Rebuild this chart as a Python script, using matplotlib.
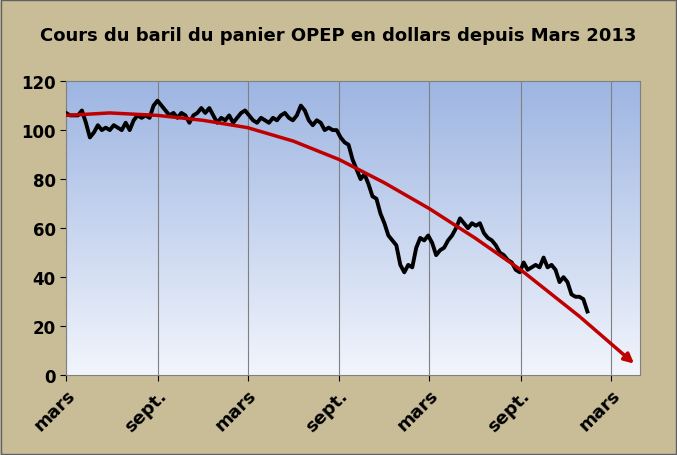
import matplotlib
matplotlib.use("Agg")
import matplotlib.pyplot as plt
import matplotlib.dates as mdates
import numpy as np
import pandas as pd

prix = [107,106,106,106,108,103,97,99,102,100,101,100,102,101,100,103,100,104,106,105,106,105,110,112,110,108,106,107,105,107,106,103,106,107,109,107,109,106,103,105,104,106,103,105,107,108,106,104,103,105,104,103,105,104,106,107,105,104,106,110,108,104,102,104,103,100,101,100,100,97,95,94,88,84,80,82,78,73,72,66,62,57,55,53,45,42,45,44,52,56,55,57,54,49,51,52,55,57,60,64,62,60,62,61,62,58,56,55,53,50,49,47,46,43,42,46,43,44,45,44,48,44,45,43,38,40,38,33,32,32,31,26]
dates = pd.date_range("2013-03-01", periods=len(prix), freq="8D")

tend_dates = pd.to_datetime(["2013-03-01","2013-05-28","2013-09-01","2013-12-01","2014-03-01","2014-06-01",
                             "2014-09-01","2014-12-01","2015-03-01","2015-06-01","2015-09-01","2015-12-28","2016-04-20"])
tend_vals = [106,107,106,104,101,95.5,88,78.5,68,56,43,24,4]

tick_dates = pd.to_datetime(["2013-03-01","2013-09-01","2014-03-01","2014-09-01","2015-03-01","2015-09-01","2016-03-01"])
tick_labels = ["mars","sept.","mars","sept.","mars","sept.","mars"]

fig = plt.figure(figsize=(6.77,4.56), dpi=100, facecolor="#C9BD98")
ax = fig.add_axes([0.0975,0.175,0.848,0.645])
x0 = mdates.date2num(pd.Timestamp("2013-03-01"))
x1 = mdates.date2num(pd.Timestamp("2016-04-28"))
grad = np.linspace(0,1,256).reshape(-1,1)
from matplotlib.colors import LinearSegmentedColormap
cm = LinearSegmentedColormap.from_list("g", ["#F2F5FC", "#9DB5E2"])
ax.imshow(grad, extent=[x0,x1,0,120], aspect="auto", cmap=cm, origin="lower", zorder=0)
ax.set_xlim(x0,x1); ax.set_ylim(0,120)
for t in tick_dates:
    ax.axvline(mdates.date2num(t), color="#808080", lw=0.8, zorder=1)
ax.plot(mdates.date2num(dates), prix, color="black", lw=2.8, zorder=3)
tx = mdates.date2num(tend_dates)
ax.plot(tx[:-1], tend_vals[:-1], color="#C00000", lw=2.5, zorder=4)
ax.annotate("", xy=(tx[-1], tend_vals[-1]), xytext=(tx[-2], tend_vals[-2]),
            arrowprops=dict(arrowstyle="-|>", color="#C00000", lw=2.5, mutation_scale=14), zorder=4)
ax.set_xticks(mdates.date2num(tick_dates))
ax.set_xticklabels(tick_labels, rotation=45, ha="right", rotation_mode="anchor", fontsize=13, fontweight="bold")
ax.set_yticks(range(0,121,20))
ax.set_yticklabels([str(v) for v in range(0,121,20)], fontsize=12, fontweight="bold")
ax.tick_params(length=4, direction="out")
for s in ax.spines.values():
    s.set_color("#808080")
fig.text(0.5,0.91,"Cours du baril du panier OPEP en dollars depuis Mars 2013", ha="center",
         fontsize=13, fontweight="bold")
fig.patches.append(plt.Rectangle((0.002,0.002),0.996,0.996, transform=fig.transFigure, fill=False, ec="#606060", lw=1))
fig.savefig("out.png", dpi=100, facecolor=fig.get_facecolor())
